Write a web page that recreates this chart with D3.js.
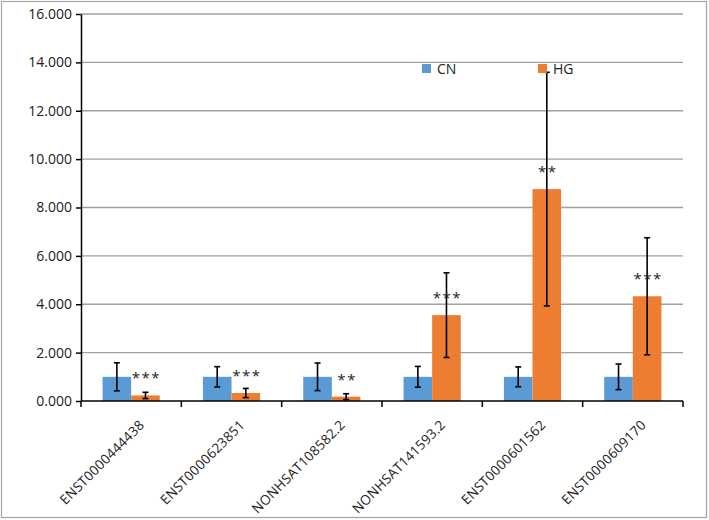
<!DOCTYPE html>
<html>
<head>
<meta charset="utf-8">
<script src="https://cdn.jsdelivr.net/npm/d3@7"></script>
<style>
  body { margin: 0; background: #fff; }
  text { font-family: "Open Sans", "Liberation Sans", sans-serif; fill: #222; }
</style>
</head>
<body>
<div id="chart"></div>
<script>
const FRAME_WIDTH = 709;
const FRAME_HEIGHT = 520;
const MARGINS = {left: 81, right: 26, top: 14, bottom: 119};
const VIS_WIDTH = FRAME_WIDTH - MARGINS.left - MARGINS.right;
const VIS_HEIGHT = FRAME_HEIGHT - MARGINS.top - MARGINS.bottom;

// data
const GENES = ["ENST0000444438", "ENST0000623851", "NONHSAT108582.2",
               "NONHSAT141593.2", "ENST0000601562", "ENST0000609170"];
const SERIES = ["CN", "HG"];
const CN_VALUES = [1.0, 1.0, 1.0, 1.0, 1.0, 1.0];
const CN_ERRORS = [0.58, 0.42, 0.57, 0.43, 0.41, 0.53];
const HG_VALUES = [0.23, 0.33, 0.18, 3.55, 8.76, 4.33];
const HG_ERRORS = [0.13, 0.19, 0.12, 1.75, 4.83, 2.42];
const STARS = ["***", "***", "**", "***", "**", "***"];
const Y_TICKS = [0, 2, 4, 6, 8, 10, 12, 14, 16];

const COLORS = {CN: "#5b9bd5", HG: "#ed7d31"};

const svg = d3.select("#chart")
  .append("svg")
    .attr("width", FRAME_WIDTH)
    .attr("height", FRAME_HEIGHT);

// outer border
svg.append("rect")
  .attr("x", 1.5).attr("y", 1.5)
  .attr("width", 705).attr("height", 516)
  .attr("fill", "none")
  .attr("stroke", "#a6a6a6")
  .attr("stroke-width", 1.2);

const g = svg.append("g")
  .attr("transform", "translate(" + MARGINS.left + "," + MARGINS.top + ")");

const X_SCALE = d3.scaleBand()
  .domain(GENES)
  .range([0, VIS_WIDTH])
  .paddingInner(0)
  .paddingOuter(0);

const Y_SCALE = d3.scaleLinear()
  .domain([0, 16])
  .range([VIS_HEIGHT, 0]);

const BAR_W = X_SCALE.bandwidth() * 0.285;

// gridlines
g.selectAll(".grid")
  .data(Y_TICKS.slice(1))
  .enter()
  .append("line")
    .attr("x1", 0).attr("x2", VIS_WIDTH)
    .attr("y1", d => Y_SCALE(d)).attr("y2", d => Y_SCALE(d))
    .attr("stroke", "#a0a0a0")
    .attr("stroke-width", 1.3);

// y axis
const yAxis = g.append("g")
  .call(d3.axisLeft(Y_SCALE).tickValues(Y_TICKS).tickFormat(d3.format(".3f")).tickSize(5).tickSizeOuter(0));
yAxis.select(".domain").attr("stroke", "#000").attr("stroke-width", 1.5);
yAxis.selectAll(".tick line").attr("stroke", "#000").attr("stroke-width", 1.5);
yAxis.selectAll(".tick text")
  .attr("x", -9)
  .attr("font-size", "14px")
  .attr("font-family", "'Open Sans', sans-serif")
  .attr("fill", "#222");

// bars
const rows = GENES.map((gene, i) => ({
  gene: gene,
  vals: [
    {s: "CN", v: CN_VALUES[i], e: CN_ERRORS[i]},
    {s: "HG", v: HG_VALUES[i], e: HG_ERRORS[i]}
  ],
  star: STARS[i]
}));

const groups = g.selectAll(".grp")
  .data(rows)
  .enter()
  .append("g")
    .attr("transform", d => "translate(" + (X_SCALE(d.gene) + X_SCALE.bandwidth() / 2) + ",0)");

groups.selectAll("rect")
  .data(d => d.vals)
  .enter()
  .append("rect")
    .attr("x", (d, i) => i === 0 ? -BAR_W : 0)
    .attr("y", d => Y_SCALE(d.v))
    .attr("width", BAR_W)
    .attr("height", d => VIS_HEIGHT - Y_SCALE(d.v))
    .attr("fill", d => COLORS[d.s]);

// x axis (drawn after bars so it sits on top)
const xAxis = g.append("g")
  .attr("transform", "translate(0," + VIS_HEIGHT + ")");
xAxis.append("line")
  .attr("x1", 0).attr("x2", VIS_WIDTH)
  .attr("stroke", "#000").attr("stroke-width", 1.5);
xAxis.selectAll(".xt")
  .data(GENES.concat(["end"]))
  .enter()
  .append("line")
    .attr("x1", (d, i) => i * X_SCALE.step())
    .attr("x2", (d, i) => i * X_SCALE.step())
    .attr("y1", 0).attr("y2", 6)
    .attr("stroke", "#000").attr("stroke-width", 1.5);

// error bars
const errs = groups.selectAll(".err")
  .data(d => d.vals)
  .enter()
  .append("g")
    .attr("transform", (d, i) => "translate(" + (i === 0 ? -BAR_W / 2 : BAR_W / 2) + ",0)");
errs.append("line")
  .attr("y1", d => Y_SCALE(d.v + d.e))
  .attr("y2", d => Y_SCALE(d.v - d.e))
  .attr("stroke", "#000").attr("stroke-width", 1.6);
errs.append("line")
  .attr("x1", -3).attr("x2", 3)
  .attr("y1", d => Y_SCALE(d.v + d.e)).attr("y2", d => Y_SCALE(d.v + d.e))
  .attr("stroke", "#000").attr("stroke-width", 1.6);
errs.append("line")
  .attr("x1", -3).attr("x2", 3)
  .attr("y1", d => Y_SCALE(d.v - d.e)).attr("y2", d => Y_SCALE(d.v - d.e))
  .attr("stroke", "#000").attr("stroke-width", 1.6);

// significance stars above HG bars
groups.append("text")
  .attr("x", BAR_W / 2 + 1)
  .attr("y", d => Y_SCALE(d.vals[1].v) - 12)
  .attr("text-anchor", "middle")
  .attr("font-size", "15px")
  .attr("letter-spacing", "1.5px")
  .text(d => d.star);

// rotated category labels
g.selectAll(".xl")
  .data(GENES)
  .enter()
  .append("text")
    .attr("transform", d => "translate(" + (X_SCALE(d) + X_SCALE.bandwidth() / 2 + 14) + "," + (VIS_HEIGHT + 25) + ") rotate(-45)")
    .attr("text-anchor", "end")
    .attr("font-size", "13.5px")
    .attr("letter-spacing", "0.2px")
    .text(d => d);

// legend
const legend = svg.append("g");
const LEG_X = [422, 538];
SERIES.forEach((s, i) => {
  legend.append("rect")
    .attr("x", LEG_X[i]).attr("y", 64)
    .attr("width", 9).attr("height", 9)
    .attr("fill", COLORS[s]);
  legend.append("text")
    .attr("x", LEG_X[i] + 15).attr("y", 74)
    .attr("font-size", "14px")
    .text(s);
});
</script>
</body>
</html>
